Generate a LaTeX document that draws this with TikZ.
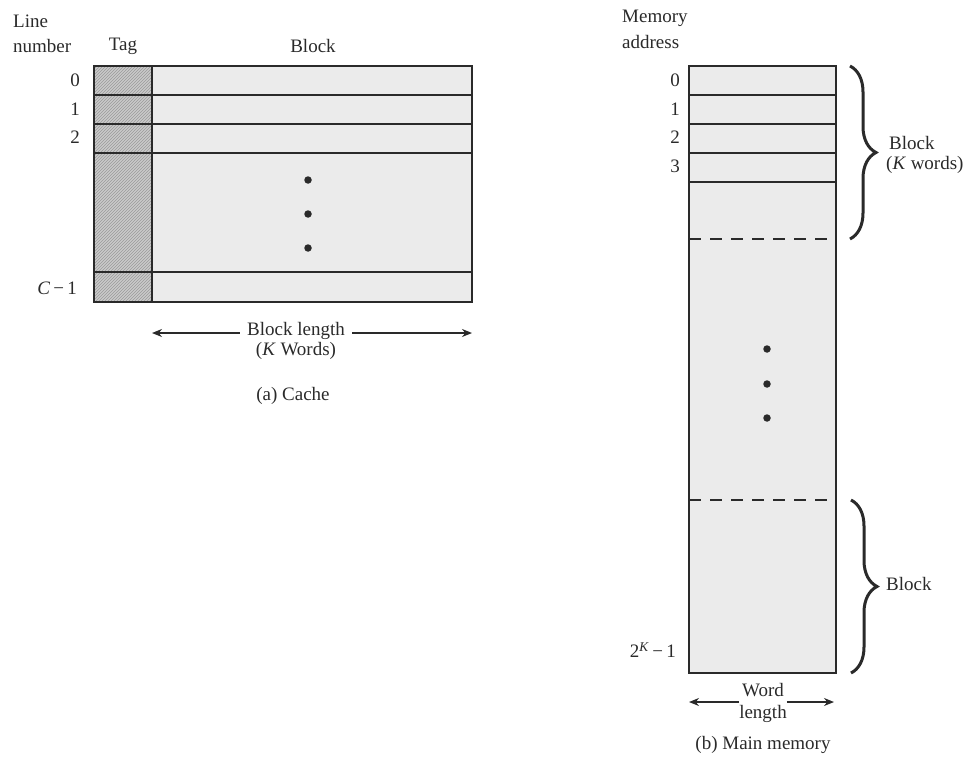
\documentclass[tikz,border=0pt]{standalone}
\usepackage{fontspec}
\setmainfont{Liberation Serif}
\usetikzlibrary{patterns,decorations.pathreplacing,arrows.meta}
\definecolor{blockgray}{HTML}{EBEBEB}
\definecolor{taggray}{HTML}{CACACA}
\definecolor{hatchgray}{HTML}{9A9A9A}
\definecolor{ink}{HTML}{2A2A2A}
\begin{document}
\begin{tikzpicture}[x=1pt,y=-1pt,
  font=\fontsize{19}{21}\selectfont, text=ink,
  frame/.style={draw=ink,line width=1.6pt},
  rowline/.style={draw=ink,line width=1.4pt},
  dashline/.style={draw=ink,line width=1.4pt,dash pattern=on 12pt off 9pt},
  lbl/.style={inner sep=0pt},
  dimarrow/.style={draw=ink,line width=1.3pt,-{Stealth[length=10pt,width=8pt]}},
  bracedeco/.style={draw=ink,line width=3pt,decorate,decoration={brace,amplitude=26pt,aspect=0.5}},
  dotmark/.style={circle,fill=ink,inner sep=0pt,minimum size=7.5pt}
]
\useasboundingbox (0,0) rectangle (979,757);

% ---------- (a) Cache ----------
\fill[taggray] (94,66) rectangle (152,302);
\fill[pattern=north east lines,pattern color=hatchgray] (94,66) rectangle (152,302);
\fill[blockgray] (152,66) rectangle (472,302);
\foreach \yy in {95,124,153,272} \draw[rowline] (94,\yy) -- (472,\yy);
\draw[rowline] (152,66) -- (152,302);
\draw[frame] (94,66) rectangle (472,302);

\node[dotmark] (cd1) at (308,180) {};
\node[dotmark] (cd2) at (308,214) {};
\node[dotmark] (cd3) at (308,248) {};

\node[lbl,anchor=west] (ln1) at (13,21) {Line};
\node[lbl,anchor=west] (ln2) at (13,46) {number};
\node[lbl] (tag) at (123,46) {Tag};
\node[lbl] (blk) at (313,46) {Block};
\node[lbl,anchor=east] (c0) at (80,80) {0};
\node[lbl,anchor=east] (c1) at (80,109) {1};
\node[lbl,anchor=east] (c2) at (80,137) {2};
\node[lbl,anchor=east] (cc) at (77,288) {\textit{C}\,−\,1};

\coordinate (bla) at (152,333);
\coordinate (blb) at (472,333);
\node[lbl] (bl1) at (296,331) {Block length};
\node[lbl] (bl2) at (296,351) {(\textit{K} Words)};
\draw[dimarrow] (bl1.west|-bla) ++(-7,0) -- (bla);
\draw[dimarrow] (bl1.east|-blb) ++(7,0) -- (blb);
\node[lbl] (capa) at (293,396) {(a) Cache};

% ---------- (b) Main memory ----------
\fill[blockgray] (689,66) rectangle (836,673);
\foreach \yy in {95,124,153,182} \draw[rowline] (689,\yy) -- (836,\yy);
\draw[dashline] (689,239) -- (836,239);
\draw[dashline] (689,500) -- (836,500);
\draw[frame] (689,66) rectangle (836,673);

\node[dotmark] (md1) at (767,349) {};
\node[dotmark] (md2) at (767,384) {};
\node[dotmark] (md3) at (767,418) {};

\node[lbl,anchor=west] (ma1) at (622,18) {Memory};
\node[lbl,anchor=west] (ma2) at (622,42) {address};
\node[lbl,anchor=east] (m0) at (680,80) {0};
\node[lbl,anchor=east] (m1) at (680,109) {1};
\node[lbl,anchor=east] (m2) at (680,137) {2};
\node[lbl,anchor=east] (m3) at (680,166) {3};
\node[lbl,anchor=east] (mk) at (676,650) {2\textsuperscript{\textit{K}}\,−\,1};

\coordinate (b1t) at (850,66);
\coordinate (b1b) at (850,239);
\draw[bracedeco] (b1t) -- (b1b);
\node[lbl,anchor=west] (bk1) at (889,143) {Block};
\node[lbl,anchor=west] (bk2) at (886,165) {(\textit{K} words)};

\coordinate (b2t) at (851,500);
\coordinate (b2b) at (851,673);
\draw[bracedeco] (b2t) -- (b2b);
\node[lbl,anchor=west] (bk3) at (886,584) {Block};

\coordinate (wla) at (689,702);
\coordinate (wlb) at (834,702);
\node[lbl] (wl1) at (763,690) {Word};
\node[lbl] (wl2) at (763,714) {length};
\draw[dimarrow] (wl2.west|-wla) -- (wla);
\draw[dimarrow] (wl2.east|-wlb) -- (wlb);
\node[lbl] (capb) at (763,745) {(b) Main memory};
\end{tikzpicture}
\end{document}
